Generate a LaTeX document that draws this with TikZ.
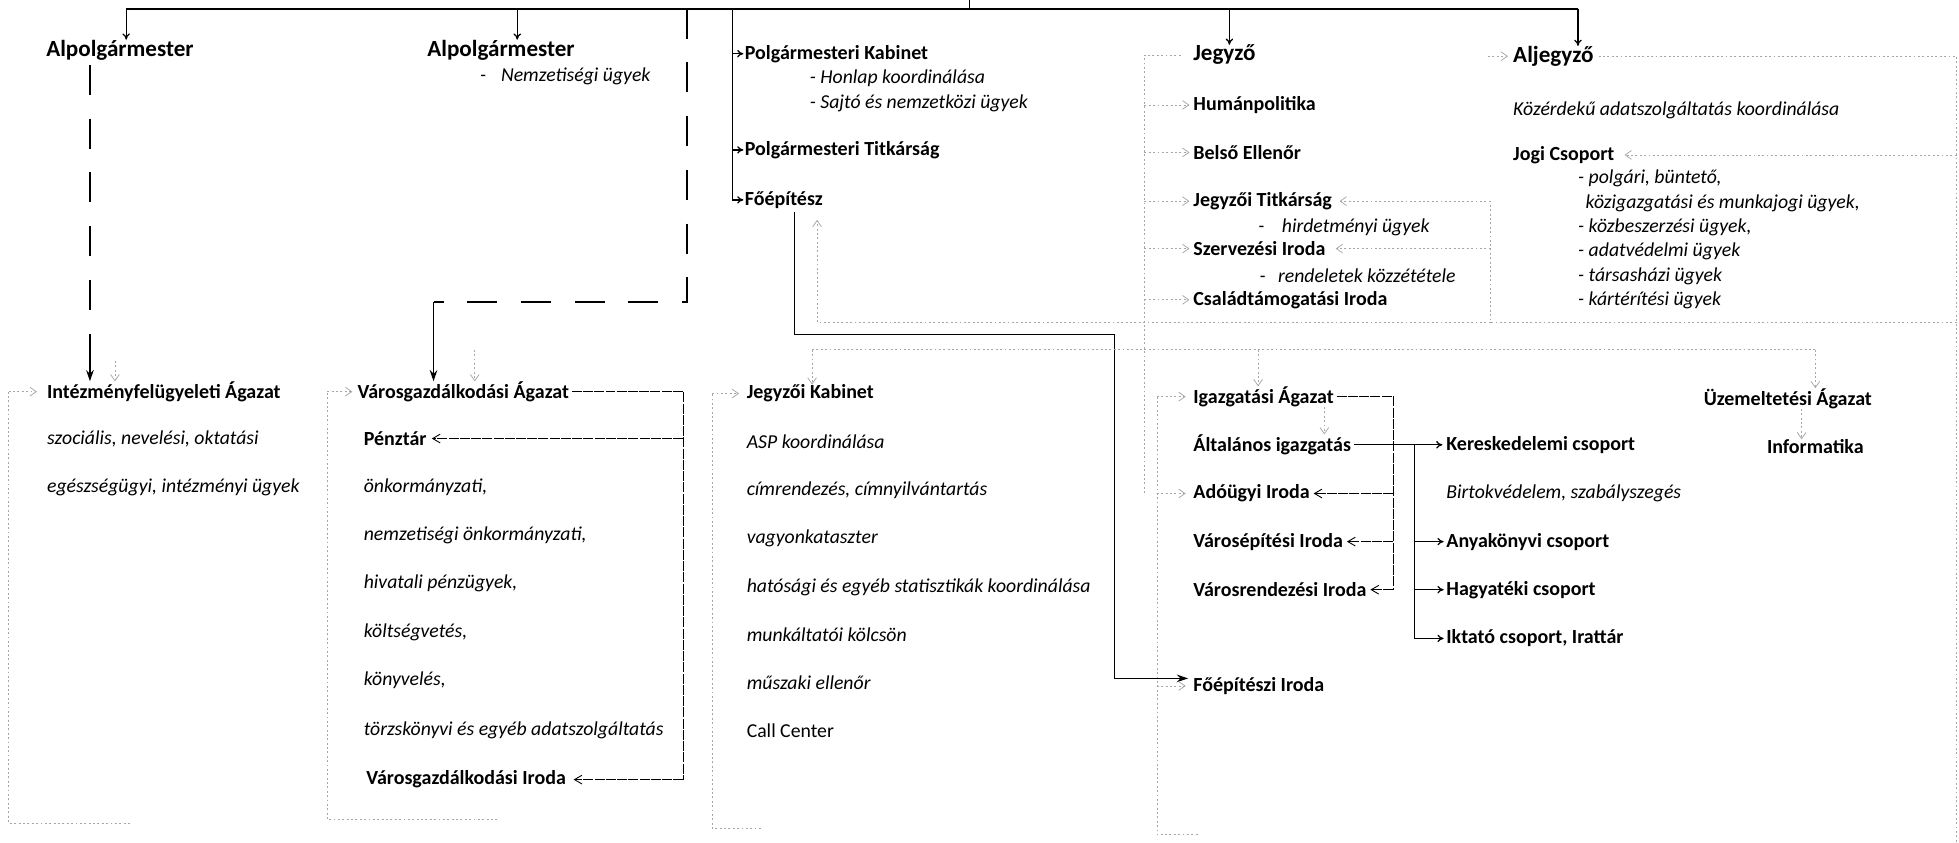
\documentclass[tikz,border=0pt]{standalone}
\usepackage{fontspec}
\setmainfont{Carlito}
\usetikzlibrary{arrows.meta,positioning}

\begin{document}
\begin{tikzpicture}[x=1pt,y=-1pt,
  head/.style={font=\fontsize{18.5}{22}\selectfont\bfseries, inner sep=0pt},
  unit/.style={font=\fontsize{16}{19}\selectfont\bfseries, inner sep=0pt, anchor=west},
  task/.style={font=\fontsize{15.8}{19}\selectfont\itshape, inner sep=0pt, anchor=west},
  main/.style={line width=1pt},
  arr/.style={main, -{To[length=5pt,width=6pt]}},
  bigarr/.style={line width=1.4pt, -{Stealth[length=9pt,width=6pt]}},
  dsh/.style={line width=1.4pt, dash pattern=on 24pt off 19pt},
  thinl/.style={line width=0.7pt, dash pattern=on 8pt off 1pt},
  thinarr/.style={thinl, -{Straight Barb[length=6pt,width=7pt]}},
  faint/.style={gray!70, line width=0.6pt, dash pattern=on 1.5pt off 2pt},
  faintarr/.style={faint, -{Straight Barb[length=5pt,width=7pt]}}]

\useasboundingbox (0,0) rectangle (1568,674);

\node[head] (alp1) at (96,40) {Alpolgármester};
\node[head] (alp2) at (401,40) {Alpolgármester};
\node[task] (nemz) at (384,61) {-\hspace{12pt}Nemzetiségi ügyek};

\node[unit] (kab) at (596,43) {Polgármesteri Kabinet};
\node[task] (honlap) at (648,63) {- Honlap koordinálása};
\node[task] (sajto) at (648,83) {- Sajtó és nemzetközi ügyek};
\node[unit] (titk) at (596,120) {Polgármesteri Titkárság};
\node[unit] (foep) at (596,160) {Főépítész};

\node[head] (jegyzo) at (980,44) {Jegyző};
\node[unit] (human) at (955,84) {Humánpolitika};
\node[unit] (belso) at (955,122) {Belső Ellenőr};
\node[unit] (jtitk) at (955,161) {Jegyzői Titkárság};
\node[task] (hird) at (1007,182) {-\hspace{14pt}hirdetményi ügyek};
\node[unit] (szerv) at (955,199) {Szervezési Iroda};
\node[task] (rend) at (1008,221) {-\hspace{10pt}rendeletek közzététele};
\node[unit] (csalad) at (955,240) {Családtámogatási Iroda};

\node[head, anchor=west] (aljegyzo) at (1211,45) {Aljegyző};
\node[task] (kozerd) at (1211,88) {Közérdekű adatszolgáltatás koordinálása};
\node[unit] (jogi) at (1211,124) {Jogi Csoport};
\node[task] (jogi1) at (1263,143) {- polgári, büntető,};
\node[task] (jogi2) at (1269,162.5) {közigazgatási és munkajogi ügyek,};
\node[task, below=39pt of jogi1.west, anchor=west] (jogi3) {- közbeszerzési ügyek,};
\node[task, below=19.5pt of jogi3.west, anchor=west] (jogi4) {- adatvédelmi ügyek};
\node[task, below=19.5pt of jogi4.west, anchor=west] (jogi5) {- társasházi ügyek};
\node[task, below=19.5pt of jogi5.west, anchor=west] (jogi6) {- kártérítési ügyek};

\node[unit] (intez) at (37.5,313.5) {Intézményfelügyeleti Ágazat};
\node[task] (szoc) at (37.5,351) {szociális, nevelési, oktatási};
\node[task] (egesz) at (37.5,390) {egészségügyi, intézményi ügyek};

\node[unit] (varosg) at (286,313.5) {Városgazdálkodási Ágazat};
\node[unit] (penz) at (291,351) {Pénztár};
\node[task, below=38.6pt of penz.west, anchor=west] (vg1) {önkormányzati,};
\node[task, below=38.8pt of vg1.west, anchor=west] (vg2) {nemzetiségi önkormányzati,};
\node[task, below=38.8pt of vg2.west, anchor=west] (vg3) {hivatali pénzügyek,};
\node[task, below=38.8pt of vg3.west, anchor=west] (vg4) {költségvetés,};
\node[task, below=38.8pt of vg4.west, anchor=west] (vg5) {könyvelés,};
\node[task, below=39.5pt of vg5.west, anchor=west] (vg6) {törzskönyvi és egyéb adatszolgáltatás};
\node[unit] (vgiroda) at (293,624) {Városgazdálkodási Iroda};

\node[unit] (jkab) at (597.5,315) {Jegyzői Kabinet};
\node[task, below=38.6pt of jkab.west, anchor=west] (jk1) {ASP koordinálása};
\node[task, below=39pt of jk1.west, anchor=west] (jk2) {címrendezés, címnyilvántartás};
\node[task, below=38.6pt of jk2.west, anchor=west] (jk3) {vagyonkataszter};
\node[task, below=38.6pt of jk3.west, anchor=west] (jk4) {hatósági és egyéb statisztikák koordinálása};
\node[task, below=38pt of jk4.west, anchor=west] (jk5) {munkáltatói kölcsön};
\node[task, below=38.6pt of jk5.west, anchor=west] (jk6) {műszaki ellenőr};
\node[task, font=\fontsize{15.8}{19}\selectfont, below=38.6pt of jk6.west, anchor=west] (jk7) {Call Center};

\node[unit] (igaz) at (955,317.5) {Igazgatási Ágazat};
\node[unit] (altal) at (955,356) {Általános igazgatás};
\node[unit] (adou) at (955,395) {Adóügyi Iroda};
\node[unit] (vepit) at (955,433.5) {Városépítési Iroda};
\node[unit] (vrend) at (955,472) {Városrendezési Iroda};
\node[unit] (foepi) at (955,549) {Főépítészi Iroda};

\node[unit] (keresk) at (1157.5,356) {Kereskedelemi csoport};
\node[task] (birt) at (1157.5,395) {Birtokvédelem, szabályszegés};
\node[unit] (anya) at (1157.5,433.5) {Anyakönyvi csoport};
\node[unit] (hagy) at (1157.5,472) {Hagyatéki csoport};
\node[unit] (ikt) at (1157.5,511) {Iktató csoport, Irattár};

\node[unit, anchor=center] (uzem) at (1431,319) {Üzemeltetési Ágazat};
\node[unit, anchor=center] (info) at (1453,357.5) {Informatika};

\coordinate (root) at (776,0);
\coordinate (bar) at (776,7);
\coordinate (barl) at (101,7);
\coordinate (barr) at (1263,7);
\coordinate (a2) at (414,7);
\coordinate (a3) at (984,7);
\draw[main] (root) -- (bar);
\draw[line width=1.3pt] (barl) -- (barr);
\draw[arr] (barl) -- (barl |- alp1.north);
\draw[arr] (a2) -- (a2 |- alp2.north);
\draw[arr] (a3) -- (a3 |- jegyzo.north);
\draw[arr] (barr) -- (barr |- aljegyzo.north);

\coordinate (pv) at (586,7);
\draw[arr] (pv) |- ([xshift=-1pt]foep.west);
\draw[arr] (pv |- kab.west) -- ([xshift=-1pt]kab.west);
\draw[arr] (pv |- titk.west) -- ([xshift=-1pt]titk.west);

\coordinate (dv) at (550,7);
\coordinate (dc) at (347,242);
\draw[dsh] (dv) |- (dc);
\draw[bigarr] (dc) -- (dc |- varosg.north);
\coordinate (lv) at (72,52);
\coordinate (lve) at (72,268);
\draw[dsh] (lv) -- (lve);
\draw[bigarr] (lve) -- (lve |- intez.north);

\coordinate (fa) at (636,170);
\coordinate (fb) at (892,268);
\coordinate (fc) at (892,543);
\draw[line width=0.8pt] (fa) |- (fb) -- (fc);
\draw[bigarr] (fc) -- ([yshift=6pt,xshift=-4pt]foepi.west);

\coordinate (jv) at (916,44);
\coordinate (jve) at (916,395);
\draw[faint] ([xshift=-10pt]jegyzo.west) -- (jv) -- (jve);
\foreach \n in {human,belso,jtitk,szerv,csalad}
  \draw[faintarr] (jv |- \n.west) -- ([xshift=-3pt]\n.west);

\coordinate (iv) at (926,317.5);
\coordinate (ive) at (926,668);
\draw[faint] (iv) -- (ive) -- ++(34,0);
\foreach \n in {igaz,adou,foepi}
  \draw[faintarr] (iv |- \n.west) -- ([xshift=-6pt]\n.west);

\coordinate (ar) at (1566,45);
\coordinate (arb) at (1566,674);
\coordinate (ab) at (1566,258);
\coordinate (ac) at (1193,258);
\coordinate (at) at (1193,161);
\coordinate (fup) at (654,258);
\draw[faint] ([xshift=4pt]aljegyzo.east) -- (ar) -- (arb);
\draw[faintarr] (ar |- jogi.east) -- ([xshift=8pt]jogi.east);
\draw[faintarr] ([xshift=-20pt]aljegyzo.west) -- ([xshift=-4pt]aljegyzo.west);
\draw[faint] (ab) -- (ac) -- (at);
\draw[faintarr] (at) -- ([xshift=6pt]jtitk.east);
\draw[faintarr] (at |- szerv.east) -- ([xshift=8pt]szerv.east);
\draw[faintarr, shorten >=9pt] (ac) -- (fup) -- (fup |- foep.south);

\coordinate (rl) at (650,280);
\coordinate (ri) at (1007,280);
\coordinate (rr) at (1453,280);
\coordinate (r1) at (92,289);
\coordinate (r2) at (380,280);
\draw[faint] (rl) -- (rr);
\draw[faintarr] (rl) -- (rl |- jkab.north);
\draw[faintarr] (ri) -- (ri |- igaz.north);
\draw[faintarr] (rr) -- (rr |- uzem.north);
\draw[faintarr] (r1) -- (r1 |- intez.north);
\draw[faintarr] (r2) -- (r2 |- varosg.north);

\coordinate (b1) at (7,659);
\coordinate (b2) at (262,656);
\coordinate (b3) at (570,663);
\draw[faint] ([xshift=97pt]b1) -- (b1) -- (b1 |- intez.west);
\draw[faintarr] (b1 |- intez.west) -- ([xshift=-8pt]intez.west);
\draw[faint] ([xshift=136pt]b2) -- (b2) -- (b2 |- varosg.west);
\draw[faintarr] (b2 |- varosg.west) -- ([xshift=-4pt]varosg.west);
\draw[faint] ([xshift=39pt]b3) -- (b3) -- (b3 |- jkab.west);
\draw[faintarr] (b3 |- jkab.west) -- ([xshift=-6pt]jkab.west);

\coordinate (vr) at (547,313.5);
\coordinate (vre) at (547,624);
\draw[thinl] ([xshift=2pt]varosg.east) -- (vr) -- (vre);
\draw[thinarr] (vre) -- ([xshift=6pt]vgiroda.east);
\draw[thinarr] (vr |- penz.east) -- ([xshift=4pt]penz.east);

\coordinate (ir) at (1115,317.5);
\coordinate (ire) at (1115,472);
\draw[thinl] ([xshift=2pt]igaz.east) -- (ir) -- (ire);
\foreach \n in {adou,vepit,vrend}
  \draw[thinarr] (ir |- \n.east) -- ([xshift=3pt]\n.east);

\coordinate (av) at (1132,356);
\coordinate (ave) at (1132,511);
\draw[main] ([xshift=2pt]altal.east) -- (av) -- (ave);
\draw[arr] (av) -- ([xshift=-3pt]keresk.west);
\foreach \n in {anya,hagy,ikt}
  \draw[arr] (av |- \n.west) -- ([xshift=-2pt]\n.west);

\coordinate (ia) at (1060,0);
\coordinate (ui) at (1442,0);
\draw[faintarr] (ia |- igaz.south) -- (ia |- altal.north);
\draw[faintarr] (ui |- uzem.south) -- (ui |- info.north);
\end{tikzpicture}
\end{document}
